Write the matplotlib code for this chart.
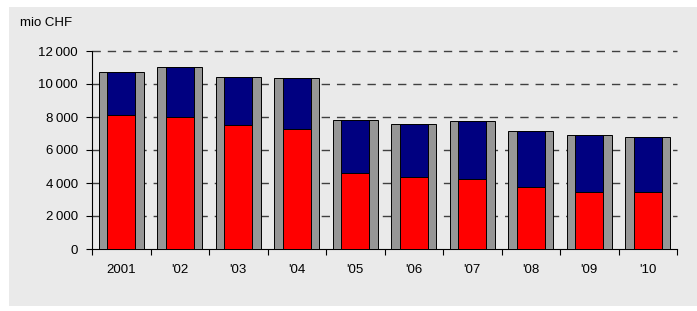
import matplotlib.pyplot as plt
import numpy as np

plt.rcParams['font.family'] = ['Liberation Sans', 'DejaVu Sans']

# data (mio CHF)
years = ['2001', "'02", "'03", "'04", "'05", "'06", "'07", "'08", "'09", "'10"]
total = [10700, 11050, 10450, 10350, 7800, 7550, 7780, 7150, 6920, 6800]
red_part = [8100, 8000, 7500, 7250, 4600, 4350, 4230, 3730, 3480, 3480]
yticks = [0, 2000, 4000, 6000, 8000, 10000, 12000]

blue_part = [t - r for t, r in zip(total, red_part)]

fig = plt.figure(figsize=(6.97, 3.11), dpi=100, facecolor='white')

# gray panel behind everything
bg = fig.add_axes([9 / 697, 5 / 311, 688 / 697, 299 / 311], zorder=-1)
bg.set_facecolor('#eaeaea')
bg.set_xticks([])
bg.set_yticks([])
for s in bg.spines.values():
    s.set_visible(False)

ax = fig.add_axes([92 / 697, 62 / 311, 585 / 697, 198 / 311])
ax.patch.set_alpha(0)

x = np.arange(len(years))
ax.bar(x, total, width=0.77, color='#969696', edgecolor='black', linewidth=0.7, zorder=3)
ax.bar(x, red_part, width=0.48, color='#ff0000', edgecolor='black', linewidth=0.7, zorder=4)
ax.bar(x, blue_part, width=0.48, bottom=red_part, color='#000080', edgecolor='black',
       linewidth=0.7, zorder=4)

ax.set_xlim(-0.5, len(years) - 0.5)
ax.set_ylim(0, 12000)

# dashed grid
for yv in yticks[1:]:
    ax.axhline(yv, color='#404040', linestyle=(0, (6, 5)), linewidth=1.0, zorder=1,
               clip_on=False)

ax.set_yticks(yticks)
ax.set_yticklabels([f'{v:,}'.replace(',', '\u2009') for v in yticks], fontsize=9.5)
ax.set_xticks(np.arange(len(years) + 1) - 0.5)
ax.set_xticklabels([])
ax.set_xticks(x, minor=True)
ax.set_xticklabels(years, minor=True, fontsize=9.5)
ax.tick_params(axis='x', which='major', direction='out', length=4, width=0.8)
ax.tick_params(axis='x', which='minor', length=0, pad=11)
ax.tick_params(axis='y', direction='out', length=4, width=0.8, pad=6)

for s in ['top', 'right']:
    ax.spines[s].set_visible(False)
ax.spines['left'].set_linewidth(0.8)
ax.spines['bottom'].set_linewidth(0.8)

fig.text(20 / 697, 1 - 23 / 311, 'mio CHF', fontsize=9.5, va='center', ha='left')

fig.savefig('out.png', dpi=100, facecolor='white')
